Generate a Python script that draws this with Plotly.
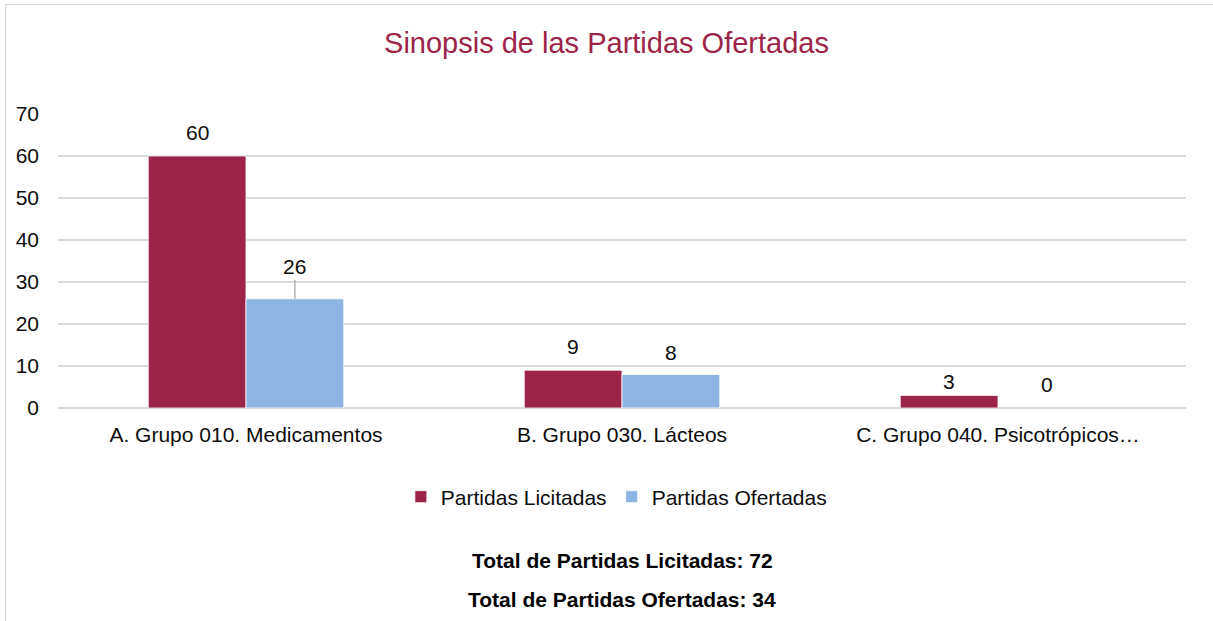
import plotly.graph_objects as go

categories = ["A. Grupo 010. Medicamentos", "B. Grupo 030. Lácteos", "C. Grupo 040. Psicotrópicos…"]
licitadas = [60, 9, 3]
ofertadas = [26, 8, 0]
series_names = ["Partidas Licitadas", "Partidas Ofertadas"]
colors = ["#9C2449", "#8EB4E3"]
y_ticks = [0, 10, 20, 30, 40, 50, 60, 70]

W, H = 1213, 621
L, R, T, B = 58, 27, 114, 213
pw, ph = W - L - R, H - T - B
bargap = 0.48
bw = (1 - bargap) / 2

idx = list(range(len(categories)))
font = "Liberation Sans, Arial, sans-serif"
FS = 21

# label placement per series/point: (pixel shift above bar, leader line?)
label_style = {
    (0, 0): (24, False), (0, 1): (24, False), (0, 2): (14, False),
    (1, 0): (19, True), (1, 1): (22, False), (1, 2): (24, False),
}

fig = go.Figure()
for name, vals, col in [(series_names[0], licitadas, colors[0]),
                        (series_names[1], ofertadas, colors[1])]:
    fig.add_trace(go.Bar(x=idx, y=vals, name=name, marker_color=col,
                         marker_line_color="white",
                         marker_line_width=[0.8 if v else 0 for v in vals]))

annotations = []
for s, (vals, sign) in enumerate([(licitadas, -1), (ofertadas, 1)]):
    for i, v in zip(idx, vals):
        xc = i + sign * bw / 2
        shift, leader = label_style[(s, i)]
        if leader:
            annotations.append(dict(x=xc, y=v, xref="x", yref="y", text=str(v),
                                    showarrow=True, arrowhead=0, arrowwidth=1.3,
                                    arrowcolor="#A6A6A6", ax=0, ay=-shift,
                                    yanchor="bottom",
                                    font=dict(family=font, size=FS, color="#0D0D0D")))
        else:
            annotations.append(dict(x=xc, y=v, xref="x", yref="y", text=str(v),
                                    showarrow=False, yshift=shift, yanchor="middle",
                                    font=dict(family=font, size=FS, color="#0D0D0D")))

def py(px):
    return (H - B - px) / ph

annotations.append(dict(x=0.5, y=py(560), xref="paper", yref="paper",
                        text="<b>Total de Partidas Licitadas: %d</b>" % sum(licitadas),
                        showarrow=False, yanchor="middle",
                        font=dict(family=font, size=FS, color="#000")))
annotations.append(dict(x=0.5, y=py(599), xref="paper", yref="paper",
                        text="<b>Total de Partidas Ofertadas: %d</b>" % sum(ofertadas),
                        showarrow=False, yanchor="middle",
                        font=dict(family=font, size=FS, color="#000")))

fig.update_layout(
    width=W, height=H,
    margin=dict(l=L, r=R, t=T, b=B),
    paper_bgcolor="white", plot_bgcolor="white",
    barmode="group", bargap=bargap, bargroupgap=0,
    title=dict(text="Sinopsis de las Partidas Ofertadas", x=0.5, xanchor="center",
               y=1 - 43 / H, yanchor="middle",
               font=dict(family=font, size=29, color="#9C2449")),
    font=dict(family=font, size=FS, color="#0D0D0D"),
    showlegend=True,
    legend=dict(orientation="h", x=0.495, xanchor="center", y=py(497), yanchor="middle",
                font=dict(family=font, size=FS, color="#0D0D0D"), itemwidth=30,
                traceorder="normal"),
    annotations=annotations,
    shapes=[
        dict(type="line", xref="paper", yref="paper", x0=(5 - L) / pw, x1=1.1,
             y0=py(4.5), y1=py(4.5), line=dict(color="#D9D9D9", width=1)),
        dict(type="line", xref="paper", yref="paper", x0=(5.5 - L) / pw, x1=(5.5 - L) / pw,
             y0=py(4.5), y1=-1, line=dict(color="#D9D9D9", width=1)),
    ],
)
fig.update_xaxes(tickmode="array", tickvals=idx, ticktext=categories,
                 range=[-0.5, len(categories) - 0.5], showgrid=False,
                 showline=False, zeroline=False, ticks="", ticklabelstandoff=12,
                 tickfont=dict(family=font, size=FS, color="#0D0D0D"))
fig.update_yaxes(range=[0, 70], tickvals=y_ticks, showgrid=True,
                 gridcolor="#D9D9D9", gridwidth=1.5, zeroline=True,
                 zerolinecolor="#D9D9D9", zerolinewidth=1.5, showline=False,
                 ticks="", ticklabelstandoff=18,
                 tickfont=dict(family=font, size=FS, color="#0D0D0D"))

fig.write_html("out.html", config={"displayModeBar": False},
               post_script="document.body.style.margin='0px';document.body.style.overflow='hidden';")
